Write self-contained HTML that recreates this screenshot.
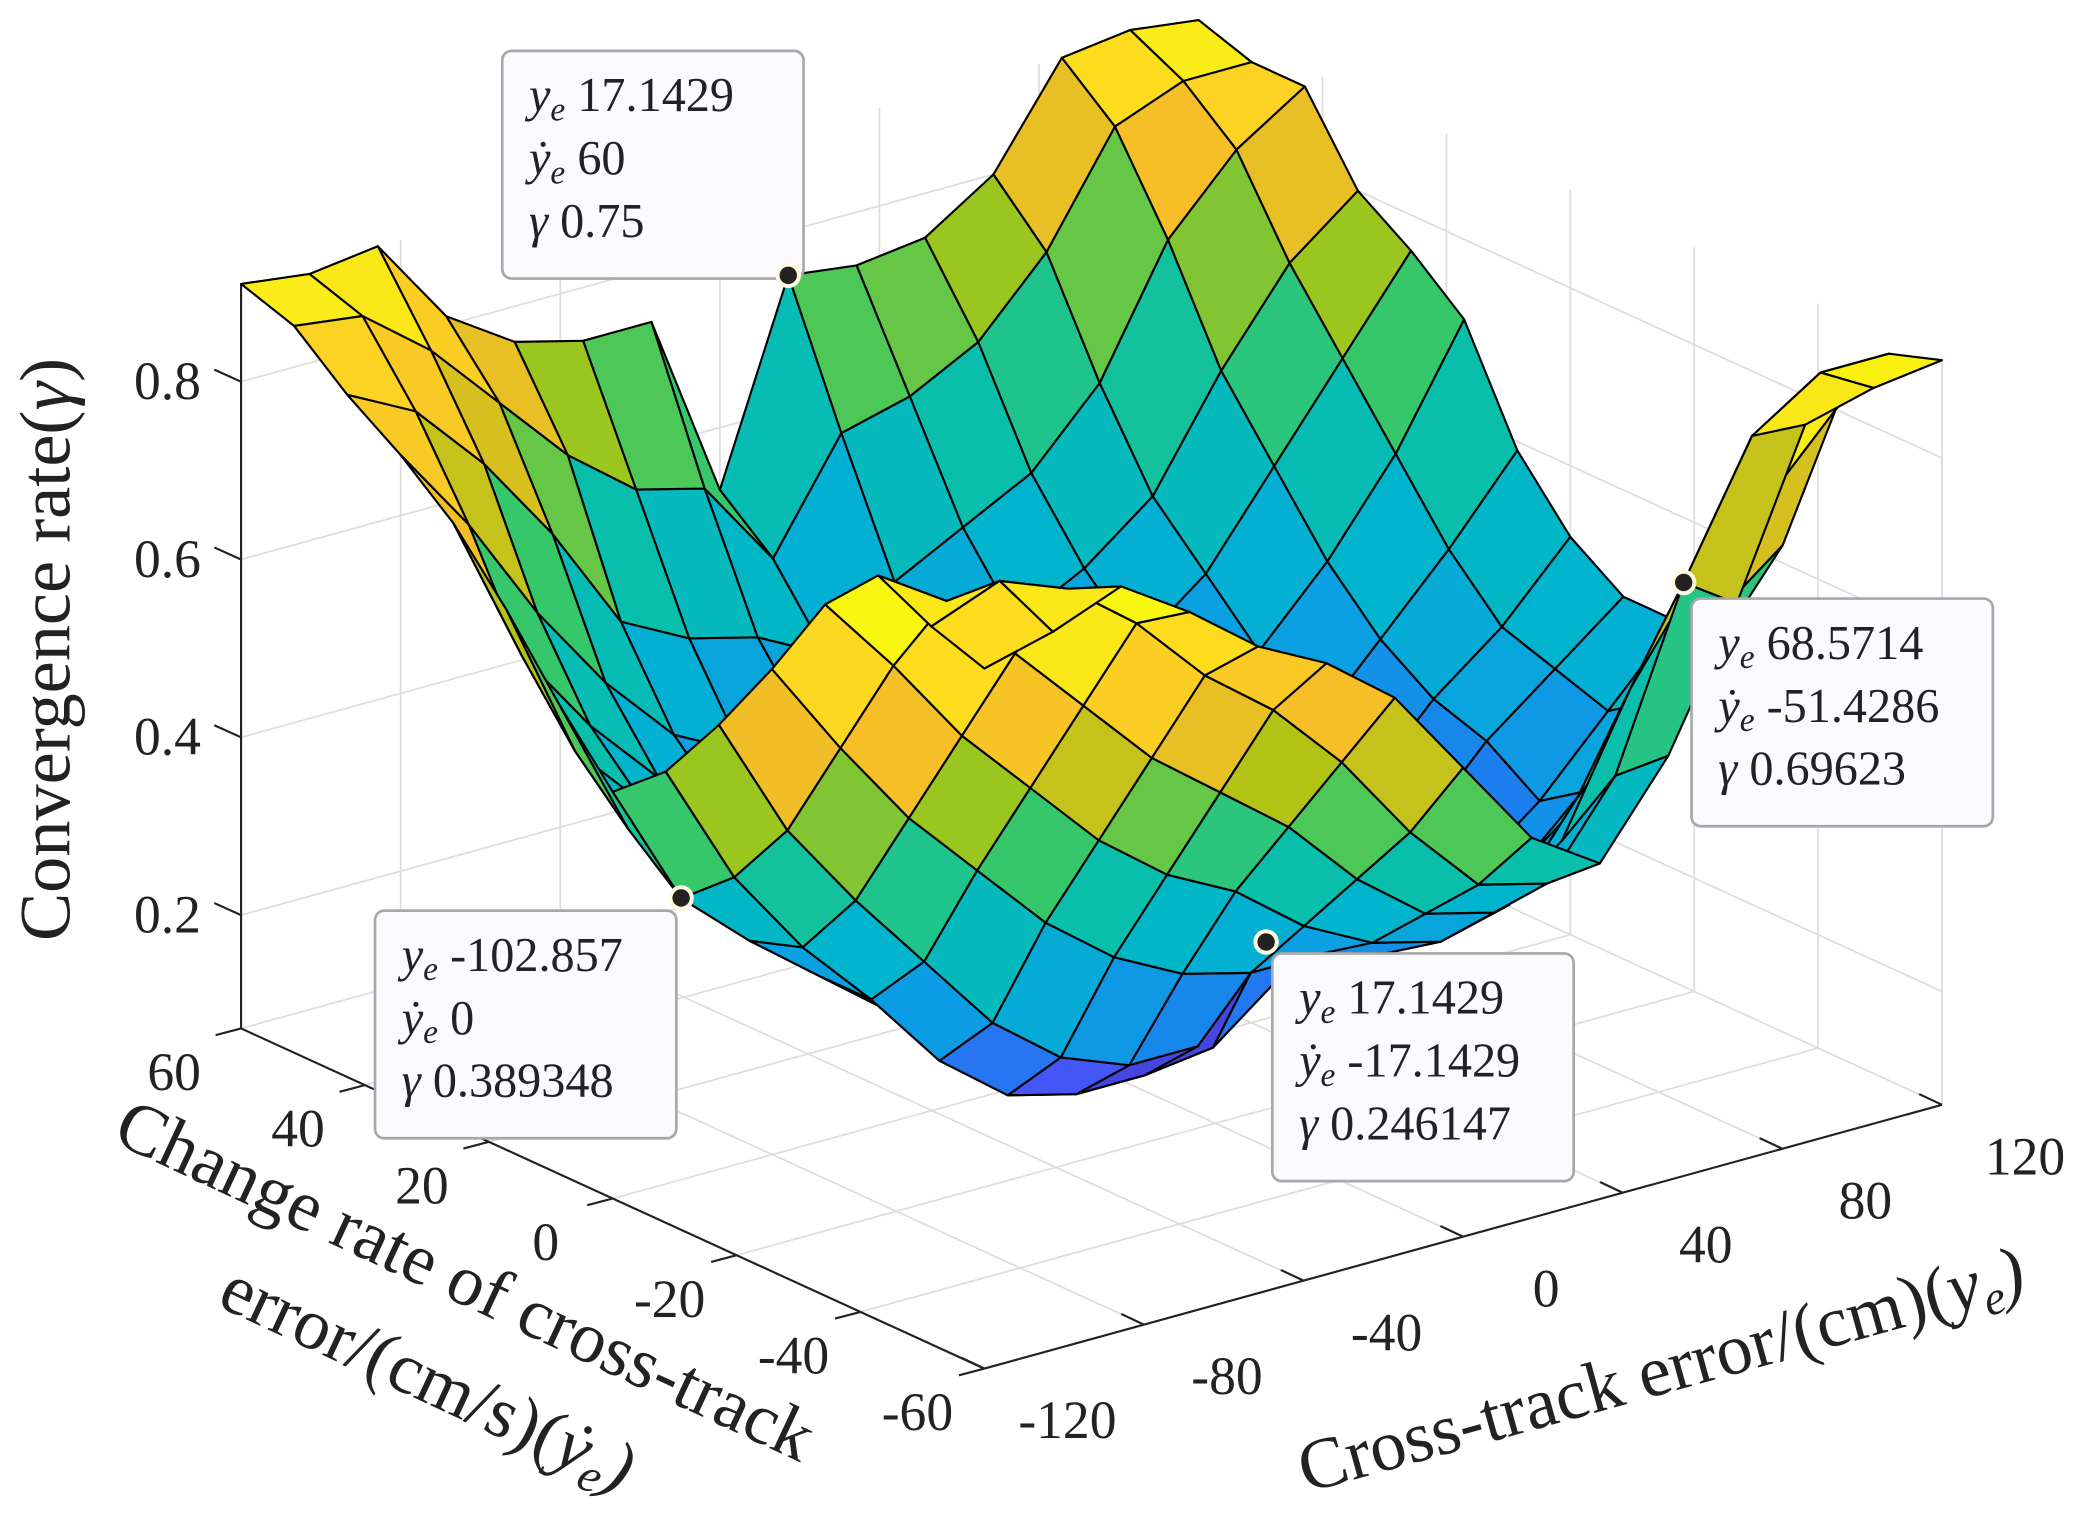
<!DOCTYPE html>
<html><head><meta charset="utf-8"><style>
html,body{margin:0;padding:0;background:#fff;}
svg{display:block;}
text{font-family:"Liberation Serif","DejaVu Serif",serif;fill:#222;}
</style></head><body>
<svg id="chart" width="2100" height="1540" viewBox="0 0 1568 1150" preserveAspectRatio="none" xmlns="http://www.w3.org/2000/svg">
<g id="grid"></g>
<g id="axes"></g>
<g id="surf"></g>
<g id="tips"></g>
<text transform="translate(52,485) rotate(-90)" text-anchor="middle" font-size="54">Convergence rate(<tspan font-style="italic">γ</tspan>)</text>
<text transform="translate(1245,1040) rotate(-15.5)" text-anchor="middle" font-size="54">Cross-track error/(cm)(<tspan font-style="italic">y<tspan font-size="36" dy="9">e</tspan><tspan dy="-9">)</tspan></tspan></text>
<text transform="translate(340,972) rotate(25)" text-anchor="middle" font-size="54">Change rate of cross-track</text>
<text transform="translate(312,1045) rotate(25)" text-anchor="middle" font-size="54">error/(cm/s)(<tspan font-style="italic">ẏ<tspan font-size="36" dy="9">e</tspan><tspan dy="-9">)</tspan></tspan></text>
</svg>
<script>
const xs=[-120,-102.857,-85.714,-68.571,-51.429,-34.286,-17.143,0,17.143,34.286,51.429,68.571,85.714,102.857,120];
const yds=[60,51.429,42.857,34.286,25.714,17.143,8.571,0,-8.571,-17.143,-25.714,-34.286,-42.857,-51.429,-60];
const Z=[
[0.91,0.90,0.91,0.81,0.76,0.74,0.74,0.53,0.75,0.74,0.75,0.80,0.91,0.92,0.91],
[0.89,0.88,0.82,0.74,0.66,0.60,0.58,0.48,0.60,0.62,0.66,0.74,0.86,0.89,0.89],
[0.84,0.80,0.72,0.62,0.50,0.46,0.44,0.40,0.46,0.50,0.54,0.62,0.76,0.84,0.89],
[0.80,0.70,0.58,0.48,0.40,0.36,0.36,0.34,0.38,0.42,0.46,0.52,0.64,0.74,0.80],
[0.75,0.58,0.48,0.40,0.34,0.30,0.28,0.28,0.32,0.36,0.40,0.46,0.56,0.66,0.76],
[0.68,0.50,0.42,0.34,0.28,0.24,0.22,0.22,0.26,0.30,0.34,0.40,0.48,0.58,0.71],
[0.60,0.44,0.36,0.30,0.24,0.20,0.18,0.18,0.22,0.26,0.30,0.34,0.42,0.50,0.59],
[0.53,0.389,0.32,0.26,0.20,0.15,0.13,0.13,0.17,0.21,0.25,0.30,0.38,0.44,0.52],
[0.58,0.44,0.34,0.26,0.17,0.11,0.09,0.09,0.10,0.16,0.22,0.28,0.36,0.42,0.48],
[0.66,0.52,0.42,0.33,0.24,0.18,0.15,0.15,0.246,0.20,0.22,0.26,0.32,0.40,0.48],
[0.75,0.64,0.54,0.46,0.38,0.32,0.28,0.26,0.26,0.24,0.26,0.30,0.36,0.44,0.50],
[0.85,0.76,0.66,0.58,0.50,0.44,0.40,0.34,0.30,0.28,0.30,0.40,0.48,0.56,0.62],
[0.91,0.86,0.78,0.70,0.62,0.56,0.50,0.42,0.36,0.34,0.40,0.55,0.66,0.72,0.80],
[0.88,0.91,0.88,0.82,0.74,0.68,0.60,0.50,0.42,0.40,0.50,0.696,0.84,0.89,0.89],
[0.86,0.88,0.91,0.86,0.80,0.76,0.70,0.60,0.50,0.45,0.55,0.70,0.88,0.90,0.91]
];
const xTicks=[-120,-80,-40,0,40,80,120];
const yTicks=[60,40,20,0,-20,-40,-60];
const zTicks=[0.2,0.4,0.6,0.8];
const tipX=[17.1429,68.5714,-102.857,17.1429];
const tipY=[60,-51.4286,0,-17.1429];
const tipG=[0.75,0.69623,0.389348,0.246147];
const tipBox=[[375,38],[1263,447],[280,680],[950,712]];

const NS='http://www.w3.org/2000/svg';
const ZMIN=0.0725, ZMAX=0.91;
function uOf(x){return (x+120)/240;}
function vOf(y){return (60-y)/120;}
function wOf(z){return (z-ZMIN)/(ZMAX-ZMIN);}
function P(x,y,z){const u=uOf(x),v=vOf(y),w=wOf(z);return [180+715*u+555*v,768-197*u+254*v-556*w];}
function mk(tag,attrs,parent){const e=document.createElementNS(NS,tag);for(const k in attrs)e.setAttribute(k,attrs[k]);parent.appendChild(e);return e;}
const par=[[0,62,38,168],[0.1,71,82,245],[0.2,30,125,240],[0.3,10,160,225],[0.4,0,180,205],[0.5,10,192,170],[0.6,60,200,100],[0.7,170,196,20],[0.8,245,190,40],[0.9,252,210,35],[1,249,251,14]];
function color(t){t=Math.max(0,Math.min(1,t));for(let i=1;i<par.length;i++){if(t<=par[i][0]){const a=par[i-1],b=par[i],f=(t-a[0])/(b[0]-a[0]);return 'rgb('+[1,2,3].map(c=>Math.round(a[c]+(b[c]-a[c])*f)).join(',')+')';}}return 'rgb(249,251,14)';}

const grid=document.getElementById('grid');
const gs={stroke:'#dddddd','stroke-width':1.3,fill:'none'};
function line(g,a,b,st,name){const l=mk('line',Object.assign({x1:a[0],y1:a[1],x2:b[0],y2:b[1]},st),g);return l;}
xTicks.forEach(x=>{
  line(grid,P(x,60,ZMIN),P(x,-60,ZMIN),gs,'floor-grid-x');
  line(grid,P(x,60,ZMIN),P(x,60,ZMAX),gs,'back-grid-x');
});
yTicks.forEach(y=>{
  line(grid,P(-120,y,ZMIN),P(120,y,ZMIN),gs,'floor-grid-y');
  line(grid,P(120,y,ZMIN),P(120,y,ZMAX),gs,'side-grid-y');
});
zTicks.forEach(z=>{
  line(grid,P(-120,60,z),P(120,60,z),gs,'back-grid-z');
  line(grid,P(120,60,z),P(120,-60,z),gs,'side-grid-z');
});

const axes=document.getElementById('axes');
const as={stroke:'#222','stroke-width':1.6};
line(axes,P(-120,60,ZMIN),P(-120,60,ZMAX),as,'z-axis-line');
line(axes,P(-120,60,ZMIN),P(-120,-60,ZMIN),as,'ydot-axis-line');
line(axes,P(-120,-60,ZMIN),P(120,-60,ZMIN),as,'x-axis-line');
zTicks.forEach(z=>{const p=P(-120,60,z);
  line(axes,p,[p[0]-20,p[1]-9],as,'z-tick');
  const t=mk('text',{x:p[0]-30,y:p[1]+13,'text-anchor':'end','font-size':40},axes);t.textContent=z.toFixed(1);
  });
yTicks.forEach(y=>{const p=P(-120,y,ZMIN);
  line(axes,p,[p[0]-19,p[1]+5],as,'ydot-tick');
  const t=mk('text',{x:p[0]-50,y:p[1]+46,'text-anchor':'middle','font-size':40},axes);t.textContent=String(y);
  });
xTicks.forEach(x=>{const p=P(x,-60,ZMIN);
  line(axes,p,[p[0]-17,p[1]-8],as,'x-tick');
  const t=mk('text',{x:p[0]+62,y:p[1]+52,'text-anchor':'middle','font-size':40},axes);t.textContent=String(x);
  });

let zmn=Infinity,zmx=-Infinity;Z.forEach(r=>r.forEach(v=>{zmn=Math.min(zmn,v);zmx=Math.max(zmx,v);}));
const surf=document.getElementById('surf');
const quads=[];
for(let k=0;k<yds.length-1;k++)for(let j=0;j<xs.length-1;j++){
  const c=[[k,j],[k,j+1],[k+1,j+1],[k+1,j]];
  let depth=0;
  const pts=c.map(([a,b])=>{const u=uOf(xs[b]),v=vOf(yds[a]),w=wOf(Z[a][b]);depth+=1.73*(-197*u+254*v)+0.577*556*w;return P(xs[b],yds[a],Z[a][b]);});
  quads.push({pts,depth,val:Z[k+1][j]});
}
quads.sort((a,b)=>a.depth-b.depth);
quads.forEach(q=>{
  const p=mk('polygon',{points:q.pts.map(p=>p[0].toFixed(1)+','+p[1].toFixed(1)).join(' '),fill:color((q.val-zmn)/(zmx-zmn)),stroke:'#000','stroke-width':1.6,'stroke-linejoin':'round'},surf);
  
  
});

const tips=document.getElementById('tips');
tipX.forEach((x,i)=>{
  const b=tipBox[i];
  const g=mk('g',{},tips);
  
  
  mk('rect',{x:b[0],y:b[1],width:225,height:170,rx:7,fill:'#fafaff',stroke:'#a8a8a8','stroke-width':2},g);
  const lines=[['y',' '+x],['ẏ',' '+tipY[i]],['γ',' '+tipG[i]]];
  lines.forEach((L,n)=>{
    const t=mk('text',{x:b[0]+20,y:b[1]+45+n*47,'font-size':36,fill:'#333'},g);
    
    
    if(n<2){t.innerHTML='<tspan font-style="italic">'+L[0]+'</tspan><tspan font-style="italic" font-size="25" dy="7">e</tspan><tspan dy="-7">'+L[1]+'</tspan>';}
    else{t.innerHTML='<tspan font-style="italic">'+L[0]+'</tspan><tspan>'+L[1]+'</tspan>';}
  });
  const p=P(x,tipY[i],tipG[i]);
  mk('circle',{cx:p[0],cy:p[1],r:8,fill:'#222',stroke:'#fffbe0','stroke-width':3},g);
});
</script>
</body></html>
